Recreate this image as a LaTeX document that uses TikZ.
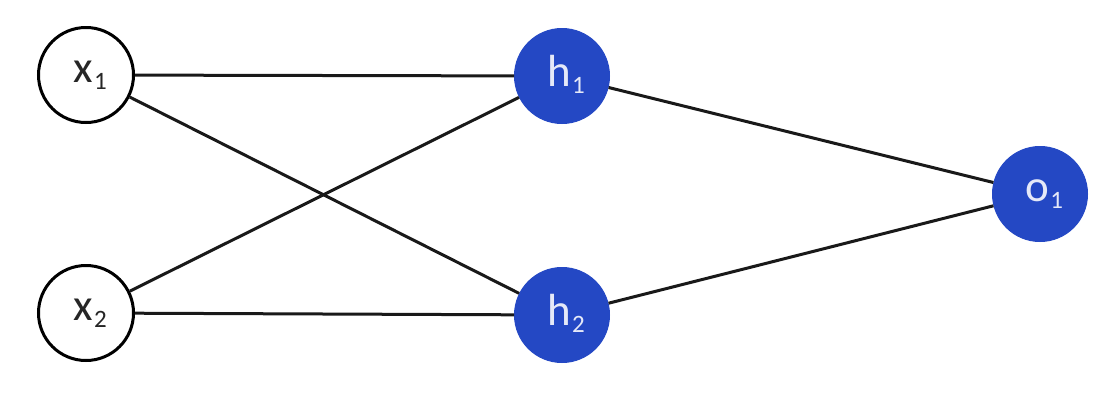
\documentclass[tikz,border=0pt]{standalone}
\usepackage{fontspec}
\setmainfont{Carlito}
\definecolor{nodeblue}{RGB}{36,72,196}
% label with a lowered index in the same family
\newcommand{\idx}[2]{#1\hspace{1.5pt}\raisebox{-7pt}{\fontsize{25}{25}\selectfont #2}}
\begin{document}
\begin{tikzpicture}[x=1pt,y=-1pt,
  neuron/.style={circle,minimum size=95pt,inner sep=0pt,font=\fontsize{45}{48}\selectfont},
  inputneuron/.style={neuron,draw=black,line width=3pt,fill=white,text=black!85},
  activeneuron/.style={neuron,fill=nodeblue,draw=nodeblue,line width=1pt,text=white!88!nodeblue},
  link/.style={line width=3pt,black!90}]
  \useasboundingbox (0,0) rectangle (1116,410);
  \node[inputneuron]  (x1) at (86,75)   {};
  \node[inputneuron]  (x2) at (86,313)  {};
  \node[activeneuron] (h1) at (562,76)  {};
  \node[activeneuron] (h2) at (562,315) {};
  \node[activeneuron] (o1) at (1040,194) {};
  \node[font=\fontsize{45}{48}\selectfont,text=black!85,inner sep=0pt] (x1l) at ([xshift=4pt]x1) {\idx{x}{1}};
  \node[font=\fontsize{45}{48}\selectfont,text=black!85,inner sep=0pt] (x2l) at ([xshift=4pt]x2) {\idx{x}{2}};
  \node[font=\fontsize{45}{48}\selectfont,text=white!88!nodeblue,inner sep=0pt] (h1l) at ([xshift=4pt,yshift=2pt]h1) {\idx{h}{1}};
  \node[font=\fontsize{45}{48}\selectfont,text=white!88!nodeblue,inner sep=0pt] (h2l) at ([xshift=4pt,yshift=2pt]h2) {\idx{h}{2}};
  \node[font=\fontsize{45}{48}\selectfont,text=white!88!nodeblue,inner sep=0pt] (o1l) at ([xshift=4pt]o1) {\idx{o}{1}};
  \draw[link] (x1) -- (h1);
  \draw[link] (x1) -- (h2);
  \draw[link] (x2) -- (h1);
  \draw[link] (x2) -- (h2);
  \draw[link] (h1) -- (o1);
  \draw[link] (h2) -- (o1);
\end{tikzpicture}
\end{document}
